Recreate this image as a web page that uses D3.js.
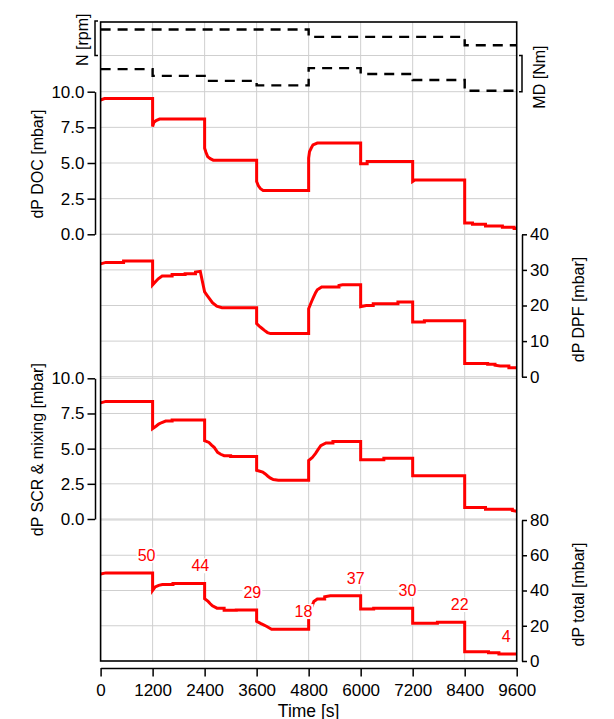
<!DOCTYPE html>
<html>
<head>
<meta charset="utf-8">
<script src="https://cdn.jsdelivr.net/npm/d3@7"></script>
<style>
  body { margin: 0; background: #fff; }
  svg { display: block; font-family: "Liberation Sans", Arial, sans-serif; }
</style>
</head>
<body>
<svg id="chart" width="614" height="719"></svg>
<script>
// ---- data ---------------------------------------------------------------
// Time axis ticks [s]
const xTicks = [0, 1200, 2400, 3600, 4800, 6000, 7200, 8400, 9600];

// Operating points: each held for 1200 s
const stepStarts = [0, 1200, 2400, 3600, 4800, 6000, 7200, 8400];
const speedRpm   = [2600, 2600, 2600, 2600, 2200, 2200, 2200, 1750];
const torqueNm   = [250, 175, 120, 70, 260, 195, 130, 10];

// Pressure drops, [time s, value mbar]
const dpDoc = [
  [0, 9.42], [90, 9.52], [1200, 7.56], [1230, 7.85], [1280, 7.98], [1360, 8.08],
  [2400, 6.04], [2430, 5.75], [2470, 5.45], [2530, 5.3], [2600, 5.2],
  [3600, 3.7], [3640, 3.4], [3690, 3.2], [3750, 3.08],
  [4800, 5.34], [4820, 5.8], [4860, 6.05], [4900, 6.27], [5000, 6.4],
  [6000, 4.95], [6150, 5.1], [7200, 3.7], [7250, 3.8],
  [8400, 0.8], [8580, 0.7], [8880, 0.58], [9270, 0.5], [9540, 0.4], [9600, 0.4]
];
const dpDpf = [
  [0, 31.7], [120, 32.1], [530, 32.5], [1200, 25.8], [1260, 26.6], [1330, 27.5],
  [1420, 28.3], [1650, 28.7], [1950, 28.9], [2190, 29.4], [2300, 29.6],
  [2400, 23.8], [2460, 22.8], [2520, 21.8], [2580, 20.8], [2680, 19.8], [2800, 19.4],
  [3600, 14.9], [3660, 14.2], [3720, 13.6], [3780, 13.0], [3850, 12.4], [3920, 12.1],
  [4800, 19.1], [4830, 20.0], [4870, 21.2], [4915, 22.4], [4960, 23.6], [5000, 24.4],
  [5100, 25.2], [5500, 25.6], [5580, 25.8],
  [6000, 19.7], [6130, 20.0], [6290, 20.5], [6860, 21.0],
  [7200, 15.4], [7470, 15.7],
  [8400, 3.7], [8930, 3.5], [9100, 3.2], [9220, 3.0], [9420, 2.5], [9600, 2.5]
];
const dpScr = [
  [0, 8.25], [120, 8.36], [1200, 6.42], [1285, 6.61], [1340, 6.75], [1400, 6.84],
  [1500, 6.96], [1650, 7.03],
  [2400, 5.56], [2500, 5.44], [2560, 5.25], [2620, 5.09], [2700, 4.74], [2770, 4.6],
  [2850, 4.5], [3000, 4.45],
  [3600, 3.46], [3740, 3.34], [3800, 3.2], [3860, 3.04], [3920, 2.9], [3985, 2.8], [4100, 2.76],
  [4800, 4.16], [4880, 4.35], [4960, 4.67], [5020, 4.95], [5080, 5.21], [5200, 5.4], [5360, 5.51],
  [6000, 4.21], [6535, 4.32],
  [7200, 3.08],
  [8400, 0.82], [8880, 0.7], [9500, 0.61], [9600, 0.55]
];
const dpTotal = [
  [0, 49.4], [120, 50], [1200, 40.0], [1260, 42.0], [1340, 42.9], [1425, 43.4], [1670, 44],
  [2400, 35.3], [2480, 33.8], [2530, 32.5], [2580, 31.3], [2685, 30.0], [2850, 28.8], [3130, 29],
  [3600, 22.5], [3700, 21.2], [3760, 20.5], [3825, 19.7], [3945, 18],
  [4800, 23.5], [4860, 30.0], [4920, 33.8], [5000, 35.2], [5170, 36.5], [5300, 37],
  [6000, 29.5], [6300, 30],
  [7200, 21.4], [7770, 22],
  [8400, 5.3], [8950, 4.7], [9190, 4], [9600, 4]
];

// Annotated total pressure drop per operating point
const totalLabelTimes  = [1060, 2300, 3500, 4680, 5885, 7080, 8285, 9360];
const totalLabelValues = [50, 44, 29, 18, 37, 30, 22, 4];

// Axis ticks
const docTicks   = [0, 2.5, 5, 7.5, 10];
const dpfTicks   = [0, 10, 20, 30, 40];
const scrTicks   = [0, 2.5, 5, 7.5, 10];
const totalTicks = [0, 20, 40, 60, 80];

// ---- layout -------------------------------------------------------------
const svg = d3.select("#chart");
const plotLeft = 100.6, plotRight = 516.7, plotTop = 22, plotBottom = 661;
const leftAxisX = 95, rightAxisX = 522, xAxisY = 668;
const fontSize = 16, tickFontSize = 17;

const x = d3.scaleLinear().domain([0, 9600]).range([plotLeft, plotRight]);
const yN   = d3.scaleLinear().domain([1200, 3000]).range([55.5, 22]);
const yMD  = d3.scaleLinear().domain([0, 400]).range([91.7, 55.5]);
const yDoc = d3.scaleLinear().domain([0, 10]).range([234.3, 91.7]);
const yDpf = d3.scaleLinear().domain([0, 40]).range([376.7, 234.3]);
const yScr = d3.scaleLinear().domain([0, 10]).range([519, 378.3]);
const yTot = d3.scaleLinear().domain([0, 80]).range([661, 520]);

// ---- grid ---------------------------------------------------------------
const grid = svg.append("g").attr("stroke", "#cfcfcf").attr("stroke-width", 1);
xTicks.slice(1, -1).forEach(t => {
  grid.append("line").attr("x1", x(t)).attr("x2", x(t))
    .attr("y1", plotTop).attr("y2", plotBottom);
});
const hLines = [yN.range()[0]]
  .concat(docTicks.map(yDoc), dpfTicks.map(yDpf), scrTicks.map(yScr), totalTicks.slice(1).map(yTot));
hLines.forEach(yy => {
  grid.append("line").attr("x1", plotLeft).attr("x2", plotRight)
    .attr("y1", yy).attr("y2", yy);
});

// ---- series -------------------------------------------------------------
// Samples far apart are held until the next one (steps); close samples are joined directly.
const holdGap = 150;
function withHolds(series) {
  const out = [series[0]];
  for (let i = 1; i < series.length; i++) {
    const prev = series[i - 1], cur = series[i];
    if (cur[0] - prev[0] >= holdGap) out.push([cur[0], prev[1]]);
    out.push(cur);
  }
  return out;
}
function lineFor(yScale) {
  return d3.line().x(d => x(d[0])).y(d => yScale(d[1]));
}
function heldSteps(values) {
  const pts = stepStarts.map((t, i) => [t, values[i]]);
  pts.push([9600, values[values.length - 1]]);
  return pts;
}

const dashed = svg.append("g").attr("fill", "none").attr("stroke", "#000")
  .attr("stroke-width", 2.4).attr("stroke-dasharray", "10,7");
dashed.append("path").attr("d", lineFor(yN).curve(d3.curveStepAfter)(heldSteps(speedRpm)));
dashed.append("path").attr("d", lineFor(yMD).curve(d3.curveStepAfter)(heldSteps(torqueNm)));

const red = svg.append("g").attr("fill", "none").attr("stroke", "#ff0000")
  .attr("stroke-width", 3).attr("stroke-linejoin", "miter");
[[dpDoc, yDoc], [dpDpf, yDpf], [dpScr, yScr], [dpTotal, yTot]].forEach(([s, ys]) => {
  red.append("path").attr("d", lineFor(ys)(withHolds(s)));
});

// value annotations on the total pressure drop
const ann = svg.append("g");
totalLabelValues.forEach((v, i) => {
  const g = ann.append("g");
  const t = g.append("text")
    .attr("x", x(totalLabelTimes[i]))
    .attr("y", yTot(v) - 18 + 5.8)
    .attr("text-anchor", "middle")
    .attr("font-size", fontSize)
    .attr("fill", "#ff0000")
    .text(v);
  const bb = t.node().getBBox();
  g.insert("rect", "text")
    .attr("x", bb.x - 1).attr("y", bb.y + 1)
    .attr("width", bb.width + 2).attr("height", bb.height - 2)
    .attr("fill", "#fff");
});

// ---- frame --------------------------------------------------------------
svg.append("rect")
  .attr("x", plotLeft).attr("y", plotTop)
  .attr("width", plotRight - plotLeft).attr("height", plotBottom - plotTop)
  .attr("fill", "none").attr("stroke", "#000").attr("stroke-width", 1.6);

// ---- axes ---------------------------------------------------------------
function styleAxis(g) {
  g.attr("font-family", null).attr("font-size", null);
  g.selectAll("path, line").attr("stroke", "#000").attr("stroke-width", 1.5);
  g.selectAll("text").attr("fill", "#000").attr("font-size", tickFontSize);
}

const fmt1 = d3.format(".1f");
svg.append("g").attr("transform", `translate(${leftAxisX},0)`)
  .call(d3.axisLeft(yDoc).tickValues(docTicks).tickFormat(fmt1).tickSize(7.5).tickSizeOuter(0).tickPadding(3))
  .call(styleAxis);
svg.append("g").attr("transform", `translate(${leftAxisX},0)`)
  .call(d3.axisLeft(yScr).tickValues(scrTicks).tickFormat(fmt1).tickSize(7.5).tickSizeOuter(0).tickPadding(3))
  .call(styleAxis);
svg.append("g").attr("transform", `translate(${rightAxisX},0)`)
  .call(d3.axisRight(yDpf).tickValues(dpfTicks).tickSize(5).tickSizeOuter(0).tickPadding(3))
  .call(styleAxis);
svg.append("g").attr("transform", `translate(${rightAxisX},0)`)
  .call(d3.axisRight(yTot).tickValues(totalTicks).tickSize(5).tickSizeOuter(0).tickPadding(3))
  .call(styleAxis);

const xAxis = svg.append("g").attr("transform", `translate(0,${xAxisY})`)
  .call(d3.axisBottom(x).tickValues(xTicks).tickFormat(d3.format("d")).tickSize(8.5).tickSizeOuter(0))
  .call(styleAxis);
xAxis.selectAll("text").attr("y", 28).attr("dy", null);

// N and MD axes: unlabelled brackets
svg.append("path")
  .attr("d", `M${leftAxisX + 3},${yN.range()[1] - 1}H${leftAxisX}V${yN.range()[0]}H${leftAxisX + 3}`)
  .attr("fill", "none").attr("stroke", "#000").attr("stroke-width", 1.5);
svg.append("path")
  .attr("d", `M${rightAxisX - 3},${yMD.range()[1]}H${rightAxisX}V${yMD.range()[0]}H${rightAxisX - 3}`)
  .attr("fill", "none").attr("stroke", "#000").attr("stroke-width", 1.5);

// ---- axis titles --------------------------------------------------------
function vTitle(text, cx, cy) {
  svg.append("text")
    .attr("transform", `translate(${cx},${cy}) rotate(-90)`)
    .attr("text-anchor", "middle")
    .attr("font-size", fontSize)
    .attr("fill", "#000")
    .text(text);
}
const mid = s => (s.range()[0] + s.range()[1]) / 2;
vTitle("N [rpm]", 88, mid(yN) + 1);
vTitle("MD [Nm]", 545, mid(yMD) + 3.5);
vTitle("dP DOC [mbar]", 43, mid(yDoc) + 1);
vTitle("dP DPF [mbar]", 584, mid(yDpf) + 4);
vTitle("dP SCR & mixing [mbar]", 43, mid(yScr) + 1);
vTitle("dP total [mbar]", 584, mid(yTot) + 4);

svg.append("text")
  .attr("x", (plotLeft + plotRight) / 2).attr("y", 716.5)
  .attr("text-anchor", "middle").attr("font-size", 17.5).attr("fill", "#000")
  .text("Time [s]");
</script>
</body>
</html>
